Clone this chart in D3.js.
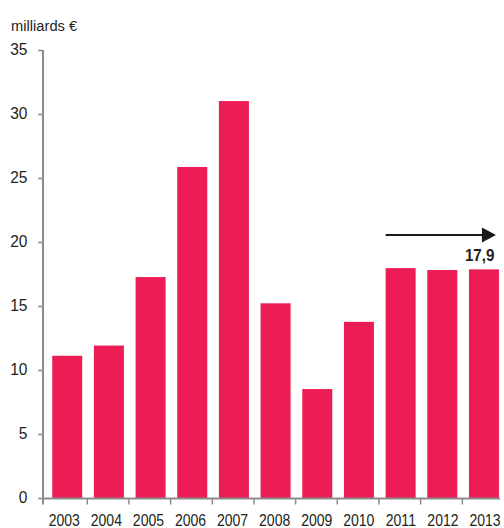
<!DOCTYPE html>
<html>
<head>
<meta charset="utf-8">
<script src="https://cdn.jsdelivr.net/npm/d3@7"></script>
<style>
  html, body { margin: 0; padding: 0; background: #fff; }
  svg { display: block; }
  text { font-family: "Liberation Sans", Arial, Helvetica, sans-serif; fill: #231f20; }
</style>
</head>
<body>
<svg id="chart" width="504" height="528"></svg>
<script>
// Investment amounts per year, in billions of euros
const years = ["2003", "2004", "2005", "2006", "2007", "2008", "2009", "2010", "2011", "2012", "2013"];
const values = [11.15, 11.95, 17.3, 25.9, 31.05, 15.25, 8.55, 13.8, 18.0, 17.85, 17.9];
const yTicks = [0, 5, 10, 15, 20, 25, 30, 35];
const unitLabel = "milliards €";
const highlightLabel = "17,9";
const highlightValue = 17.9;

const svg = d3.select("#chart");

const x = d3.scaleBand()
  .domain(years)
  .range([46.4, 504.8])
  .paddingInner(0.28)
  .paddingOuter(0.14);

// Year labels sit on a slightly wider spacing than the bars
const xLabel = d3.scalePoint()
  .domain(years)
  .range([64.3, 485]);

const y = d3.scaleLinear()
  .domain([0, 35])
  .range([498.5, 50.5]);

const axisColor = "#8c8c8c";
const axisX = 43;

// Bars
svg.append("g")
  .selectAll("rect")
  .data(years)
  .join("rect")
  .attr("x", d => x(d))
  .attr("width", x.bandwidth())
  .attr("y", (d, i) => y(values[i]))
  .attr("height", (d, i) => y(0) - y(values[i]))
  .attr("fill", "#ec1c54");

// Y axis: line, ticks, labels
const yAxis = svg.append("g");
yAxis.append("line")
  .attr("x1", axisX).attr("x2", axisX)
  .attr("y1", y(35) - 0.5).attr("y2", y(0) + 6)
  .attr("stroke", axisColor).attr("stroke-width", 2);
yAxis.selectAll("line.tick")
  .data(yTicks)
  .join("line")
  .attr("class", "tick")
  .attr("x1", axisX - 5).attr("x2", axisX)
  .attr("y1", d => y(d)).attr("y2", d => y(d))
  .attr("stroke", axisColor).attr("stroke-width", 1.5);
yAxis.selectAll("text")
  .data(yTicks)
  .join("text")
  .attr("transform", d => `translate(27.5,${y(d) - 0.8}) scale(0.97,1)`)
  .attr("dy", "0.36em")
  .attr("text-anchor", "end")
  .attr("font-size", 16)
  .text(d => d);

// X axis: baseline, boundary ticks, year labels
const xAxis = svg.append("g");
xAxis.append("line")
  .attr("x1", axisX).attr("x2", 500)
  .attr("y1", y(0)).attr("y2", y(0))
  .attr("stroke", axisColor).attr("stroke-width", 2);
const boundaries = years.slice(1).map(d => x(d) - x.step() * x.paddingInner() / 2);
xAxis.selectAll("line.tick")
  .data(boundaries)
  .join("line")
  .attr("class", "tick")
  .attr("x1", d => d - 0.8).attr("x2", d => d - 0.8)
  .attr("y1", y(0)).attr("y2", y(0) + 6)
  .attr("stroke", axisColor).attr("stroke-width", 1.5);
xAxis.selectAll("text")
  .data(years)
  .join("text")
  .attr("transform", d => `translate(${xLabel(d)},526) scale(0.85,1)`)
  .attr("text-anchor", "middle")
  .attr("font-size", 16.5)
  .text(d => d);

// Unit label
svg.append("text")
  .attr("transform", "translate(11,30.5) scale(0.95,1)")
  .attr("font-size", 15.5)
  .text(unitLabel);

// Trend arrow over the last three years with its value
const arrowY = 235;
const arrowStart = x("2011");
const arrowTip = x("2013") + x.bandwidth() - 3;
svg.append("line")
  .attr("x1", arrowStart).attr("x2", arrowTip - 10)
  .attr("y1", arrowY).attr("y2", arrowY)
  .attr("stroke", "#1a1a1a").attr("stroke-width", 2.2);
svg.append("path")
  .attr("d", `M${arrowTip},${arrowY} L${arrowTip - 14},${arrowY - 7.5} L${arrowTip - 14},${arrowY + 7.5} Z`)
  .attr("fill", "#1a1a1a");
svg.append("text")
  .attr("transform", `translate(${x("2013") + x.bandwidth() - 4.5},${y(highlightValue) - 8.5}) scale(0.95,1)`)
  .attr("text-anchor", "end")
  .attr("font-size", 16)
  .attr("font-weight", "bold")
  .text(highlightLabel);
</script>
</body>
</html>
